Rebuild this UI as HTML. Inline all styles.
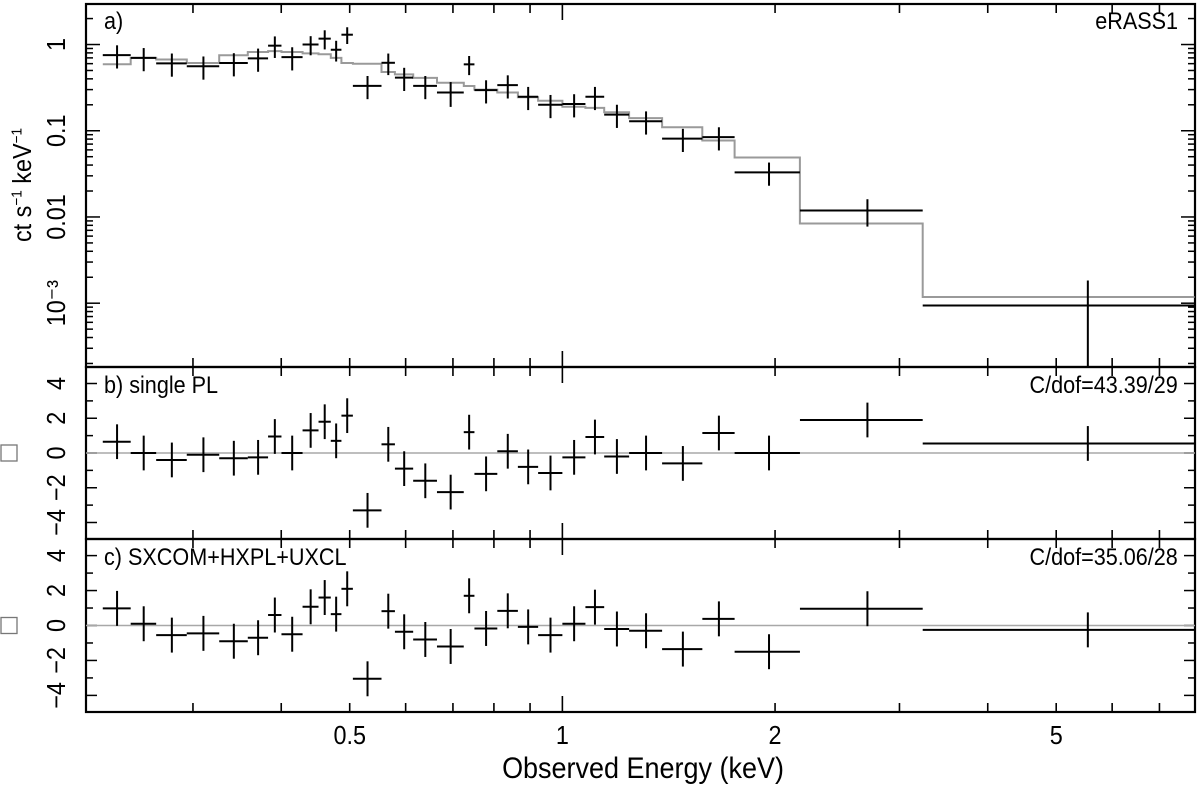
<!DOCTYPE html>
<html><head><meta charset="utf-8">
<style>
html,body{margin:0;padding:0;background:#fff;}
svg{display:block;font-family:"Liberation Sans",sans-serif;}
.lab{position:absolute;font-size:24px;white-space:nowrap;line-height:1;}
</style></head>
<body>
<svg id="chart" width="1200" height="787" viewBox="0 0 1200 787" xmlns="http://www.w3.org/2000/svg"></svg>
<script>
// ---- data ----
const binEdges = [0.2236,0.2449,0.2661,0.2940,0.3268,0.3587,0.3832,0.4003,0.4288,0.4517,0.4701,0.4867,0.5052,0.5546,0.5794,0.6149,0.6645,0.7251,0.7508,0.8089,0.8650,0.9240,1.000,1.078,1.146,1.243,1.384,1.578,1.753,2.169,3.236,7.85];
const countRate = [0.753,0.70,0.605,0.559,0.61,0.69,0.97,0.715,1.0,1.17,0.87,1.30,0.332,0.614,0.413,0.332,0.278,0.589,0.296,0.338,0.248,0.200,0.204,0.248,0.154,0.129,0.081,0.0844,0.0329,0.0119,0.00094];
const countRateErr = [0.3,0.3,0.3,0.3,0.3,0.3,0.28,0.3,0.25,0.25,0.27,0.22,0.3,0.28,0.3,0.3,0.32,0.25,0.3,0.3,0.3,0.3,0.3,0.3,0.3,0.3,0.3,0.3,0.3,0.35,0.95];
const modelRate = [0.59,0.70,0.67,0.61,0.75,0.82,0.84,0.82,0.79,0.77,0.70,0.61,0.60,0.48,0.45,0.41,0.36,0.33,0.30,0.278,0.244,0.223,0.19,0.184,0.164,0.14,0.11,0.077,0.049,0.0084,0.00118];
const residPL = [0.65,0,-0.4,-0.1,-0.3,-0.25,0.95,0,1.3,1.8,0.7,2.15,-3.3,0.5,-0.9,-1.6,-2.25,1.2,-1.2,0.1,-0.8,-1.15,-0.25,0.92,-0.2,0,-0.6,1.15,0,1.9,0.55];
const residMulti = [0.98,0.1,-0.55,-0.45,-0.9,-0.7,0.6,-0.5,1.07,1.6,0.65,2.1,-3.05,0.82,-0.36,-0.8,-1.2,1.7,-0.17,0.84,-0.08,-0.55,0.1,1.05,-0.2,-0.3,-1.35,0.38,-1.5,0.96,-0.25];
const xTickLabels = ["0.5","1","2","5"];
const xTickValues = [0.5,1,2,5];
const yTickLabels = ["1","0.1","0.01","10\u207B\u00B3"];
const yTickValues = [1,0.1,0.01,0.001];
const residTickValues = [-4,-2,0,2,4];

// ---- layout ----
const L=86,R=1195;
const EMIN=0.2117,EMAX=7.86;
const A={top:4,bot:367}, B={top:367,bot:539}, C={top:539,bot:712};
const LOGTOP=0.47, LOGBOT=-3.74;
const RMAX=4.95, RMIN=-4.95;
const svg=document.getElementById('chart');
const NS="http://www.w3.org/2000/svg";
function X(e){return L+(Math.log10(e)-Math.log10(EMIN))/(Math.log10(EMAX)-Math.log10(EMIN))*(R-L);}
function YA(v){return A.top+(LOGTOP-Math.log10(v))/(LOGTOP-LOGBOT)*(A.bot-A.top);}
function YB(p,r){return p.top+(RMAX-r)/(RMAX-RMIN)*(p.bot-p.top);}
function mk(tag,attrs,parent){const el=document.createElementNS(NS,tag);for(const k in attrs)el.setAttribute(k,attrs[k]);(parent||svg).appendChild(el);return el;}
function line(x1,y1,x2,y2,st,w,g){return mk('line',{x1,y1,x2,y2,stroke:st,'stroke-width':w},g);}
function mid(i){return (binEdges[i]+binEdges[i+1])/2;}

const defs=mk('defs',{});
[A,B,C].forEach((p,i)=>{const cp=mk('clipPath',{id:'clip'+i},defs);mk('rect',{x:L,y:p.top,width:R-L,height:p.bot-p.top},cp);});

// ---- x ticks ----
const xt=mk('g',{});


const minorE=[0.3,0.4,0.5,0.6,0.7,0.8,0.9,2,3,4,5,6,7];
[A,B,C].forEach(p=>{
  minorE.forEach(e=>{const x=X(e);line(x,p.top,x,p.top+9,'#000',1.6,xt);line(x,p.bot,x,p.bot-9,'#000',1.6,xt);});
  const x1=X(1);line(x1,p.top,x1,p.top+16,'#000',1.6,xt);line(x1,p.bot,x1,p.bot-16,'#000',1.6,xt);
});
// ---- y ticks ----
const yt=mk('g',{});


for(let d=-4;d<=0;d++){for(let m=1;m<=9;m++){const v=m*Math.pow(10,d);const y=YA(v);if(y<A.top||y>A.bot)continue;const len=m===1?14:7;line(L,y,L+len,y,'#000',1.5,yt);line(R,y,R-len,y,'#000',1.5,yt);}}
[B,C].forEach(p=>{for(let r=-4;r<=4;r++){const y=YB(p,r);const len=r%2===0?11:7;line(L,y,L+len,y,'#000',1.5,yt);line(R,y,R-len,y,'#000',1.5,yt);}});

// ---- frames ----
[A,B,C].forEach((p,i)=>{const f=mk('rect',{x:L,y:p.top,width:R-L,height:p.bot-p.top,fill:'none',stroke:'#000','stroke-width':2.2});

});

// ---- model step ----
const mg=mk('g',{'clip-path':'url(#clip0)'});


let d='';
modelRate.forEach((v,i)=>{const x0=X(binEdges[i]),x1=X(binEdges[i+1]),y=YA(v);d+=(i===0?'M':'L')+x0.toFixed(1)+','+y.toFixed(1)+'L'+x1.toFixed(1)+','+y.toFixed(1);});
mk('path',{d,fill:'none',stroke:'#9a9a9a','stroke-width':2},mg);

// ---- data crosses ----
const dg=mk('g',{'clip-path':'url(#clip0)'});


countRate.forEach((v,i)=>{
  const e0=binEdges[i],e1=binEdges[i+1];const xc=X(mid(i));
  const g=mk('g',{},dg);
  
  
  line(X(e0),YA(v),X(e1),YA(v),'#000',2,g);
  const lo=Math.max(v*(1-countRateErr[i]),1e-6);
  line(xc,YA(v*(1+countRateErr[i])),xc,YA(lo),'#000',2,g);
});

// ---- residual panels ----
[[B,residPL,1,'single-pl-residuals'],[C,residMulti,2,'multi-model-residuals']].forEach(([p,res,ci,nm])=>{
  const z=line(L,YB(p,0),R,YB(p,0),'#a8a8a8',1.5);
  
  
  const g=mk('g',{'clip-path':'url(#clip'+ci+')'});
  
  
  res.forEach((r,i)=>{const e0=binEdges[i],e1=binEdges[i+1];const xc=X(mid(i));
    line(X(e0),YB(p,r),X(e1),YB(p,r),'#000',2,g);
    line(xc,YB(p,r+1),xc,YB(p,r-1),'#000',2,g);});
  residTickValues.forEach(t=>{const y=YB(p,t);const tx=mk('text',{x:0,y:0,transform:`translate(65,${y}) rotate(-90) scale(0.9,1)`,'text-anchor':'middle','font-size':26});
    tx.textContent=(t<0?'\u2212':'')+Math.abs(t);
    
    });
  const bx=mk('rect',{x:1,y:YB(p,0)-8,width:16,height:16,fill:'none',stroke:'#777','stroke-width':1.3});
  
  
});

// ---- y tick labels ----
yTickValues.forEach((v,i)=>{const y=YA(v);const tx=mk('text',{x:0,y:0,transform:`translate(65,${y}) rotate(-90) scale(0.9,1)`,'text-anchor':'middle','font-size':26});
  tx.textContent=yTickLabels[i];
  
  });

// ---- x tick labels ----
xTickValues.forEach((v,i)=>{const tx=mk('text',{x:0,y:0,transform:`translate(${X(v)},744) scale(0.9,1)`,'text-anchor':'middle','font-size':26});
  tx.textContent=xTickLabels[i];
  
  });

// ---- axis title ----
const xtitle=mk('text',{x:0,y:0,transform:'translate(643,778) scale(0.9,1)','text-anchor':'middle','font-size':30});
xtitle.textContent='Observed Energy (keV)';


</script>
<div style="position:absolute;left:0;top:0;width:1200px;height:787px;pointer-events:none;font-family:'Liberation Sans',sans-serif;">
  <div class="lab" style="left:22px;top:185px;transform:translate(-50%,-50%) rotate(-90deg) scaleX(0.9);font-size:26px;">ct s<sup style="font-size:15px">−1</sup> keV<sup style="font-size:15px">−1</sup></div>
  <div class="lab" style="left:104px;top:10px;transform-origin:left top;transform:scaleX(0.9);">a)</div>
  <div class="lab" style="right:22px;top:10px;transform-origin:right top;transform:scaleX(0.9);">eRASS1</div>
  <div class="lab" style="left:104px;top:374px;transform-origin:left top;transform:scaleX(0.9);">b) single PL</div>
  <div class="lab" style="right:22px;top:374px;transform-origin:right top;transform:scaleX(0.9);">C/dof=43.39/29</div>
  <div class="lab" style="left:104px;top:546px;transform-origin:left top;transform:scaleX(0.9);">c) SXCOM+HXPL+UXCL</div>
  <div class="lab" style="right:22px;top:546px;transform-origin:right top;transform:scaleX(0.9);">C/dof=35.06/28</div>
</div>
</body></html>
